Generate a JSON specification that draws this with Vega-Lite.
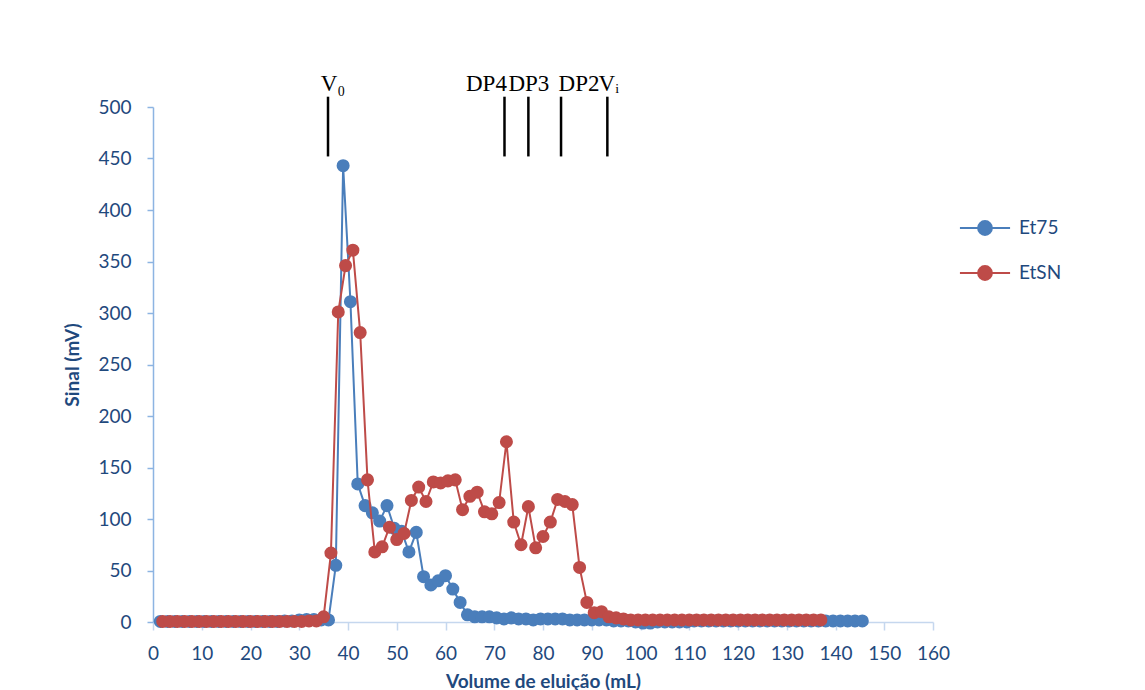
{
  "$schema": "https://vega.github.io/schema/vega-lite/v6.json",
  "autosize": {"type": "none"},
  "width": 780,
  "height": 515,
  "padding": {"left": 153, "top": 107, "right": 212, "bottom": 68},
  "background": "white",
  "config": {
    "view": {"stroke": null},
    "font": "Lato",
    "axisX": {
      "grid": false, "domainColor": "#C5D7EE", "domainWidth": 1.5, "tickColor": "#C5D7EE", "tickWidth": 1.5, "tickSize": 8,
      "labelFont": "Lato", "labelFontSize": 19, "labelColor": "#1F497D", "labelPadding": 14, "labelFlush": false,
      "titleFont": "Lato", "titleFontSize": 19, "titleFontWeight": "bold", "titleColor": "#1F497D", "titlePadding": 9,
      "values": [0,10,20,30,40,50,60,70,80,90,100,110,120,130,140,150,160]
    },
    "axisY": {
      "grid": false, "domainColor": "#8DB4E2", "domainWidth": 1.5, "tickColor": "#8DB4E2", "tickWidth": 1.5, "tickSize": 6,
      "labelFont": "Lato", "labelFontSize": 19, "labelColor": "#1F497D", "labelPadding": 16,
      "titleFont": "Lato", "titleFontSize": 19, "titleFontWeight": "bold", "titleColor": "#1F497D", "titlePadding": 15,
      "values": [0,50,100,150,200,250,300,350,400,450,500]
    }
  },
  "datasets": {
    "series": [
      {"s":"Et75","v":1.5,"sig":0.5},{"s":"Et75","v":3,"sig":0.5},{"s":"Et75","v":4.5,"sig":0.5},{"s":"Et75","v":6,"sig":0.5},
      {"s":"Et75","v":7.5,"sig":0.5},{"s":"Et75","v":9,"sig":0.5},{"s":"Et75","v":10.5,"sig":0.5},{"s":"Et75","v":12,"sig":0.5},
      {"s":"Et75","v":13.5,"sig":0.5},{"s":"Et75","v":15,"sig":0.5},{"s":"Et75","v":16.5,"sig":0.5},{"s":"Et75","v":18,"sig":0.5},
      {"s":"Et75","v":19.5,"sig":0.5},{"s":"Et75","v":21,"sig":0.5},{"s":"Et75","v":22.5,"sig":0.5},{"s":"Et75","v":24,"sig":0.5},
      {"s":"Et75","v":25.5,"sig":0.5},{"s":"Et75","v":27,"sig":1},{"s":"Et75","v":28.5,"sig":1},{"s":"Et75","v":30,"sig":2},
      {"s":"Et75","v":31.5,"sig":2.5},{"s":"Et75","v":33,"sig":2.5},{"s":"Et75","v":34.5,"sig":2},{"s":"Et75","v":36,"sig":2},
      {"s":"Et75","v":37.5,"sig":55},{"s":"Et75","v":39,"sig":443},{"s":"Et75","v":40.5,"sig":311},{"s":"Et75","v":42,"sig":134},
      {"s":"Et75","v":43.5,"sig":113},{"s":"Et75","v":45,"sig":106},{"s":"Et75","v":46.5,"sig":98},{"s":"Et75","v":48,"sig":113},
      {"s":"Et75","v":49.5,"sig":91},{"s":"Et75","v":51,"sig":88},{"s":"Et75","v":52.5,"sig":68},{"s":"Et75","v":54,"sig":87},
      {"s":"Et75","v":55.5,"sig":44},{"s":"Et75","v":57,"sig":36},{"s":"Et75","v":58.5,"sig":40},{"s":"Et75","v":60,"sig":45},
      {"s":"Et75","v":61.5,"sig":32},{"s":"Et75","v":63,"sig":19},{"s":"Et75","v":64.5,"sig":7},{"s":"Et75","v":66,"sig":5},
      {"s":"Et75","v":67.5,"sig":5},{"s":"Et75","v":69,"sig":5},{"s":"Et75","v":70.5,"sig":4},{"s":"Et75","v":72,"sig":3},
      {"s":"Et75","v":73.5,"sig":4},{"s":"Et75","v":75,"sig":3},{"s":"Et75","v":76.5,"sig":3},{"s":"Et75","v":78,"sig":2},
      {"s":"Et75","v":79.5,"sig":3},{"s":"Et75","v":81,"sig":3},{"s":"Et75","v":82.5,"sig":3},{"s":"Et75","v":84,"sig":3},
      {"s":"Et75","v":85.5,"sig":2},{"s":"Et75","v":87,"sig":2},{"s":"Et75","v":88.5,"sig":2},{"s":"Et75","v":90,"sig":2},
      {"s":"Et75","v":91.5,"sig":2},{"s":"Et75","v":93,"sig":2},{"s":"Et75","v":94.5,"sig":1},{"s":"Et75","v":96,"sig":1},
      {"s":"Et75","v":97.5,"sig":1},{"s":"Et75","v":99,"sig":0},{"s":"Et75","v":100.5,"sig":-1},{"s":"Et75","v":102,"sig":-1},
      {"s":"Et75","v":103.5,"sig":0},{"s":"Et75","v":105,"sig":0},{"s":"Et75","v":106.5,"sig":0},{"s":"Et75","v":108,"sig":0},
      {"s":"Et75","v":109.5,"sig":0},{"s":"Et75","v":111,"sig":1},{"s":"Et75","v":112.5,"sig":1},{"s":"Et75","v":114,"sig":1},
      {"s":"Et75","v":115.5,"sig":1},{"s":"Et75","v":117,"sig":1},{"s":"Et75","v":118.5,"sig":1},{"s":"Et75","v":120,"sig":1},
      {"s":"Et75","v":121.5,"sig":1},{"s":"Et75","v":123,"sig":1},{"s":"Et75","v":124.5,"sig":1},{"s":"Et75","v":126,"sig":1},
      {"s":"Et75","v":127.5,"sig":1},{"s":"Et75","v":129,"sig":1},{"s":"Et75","v":130.5,"sig":1},{"s":"Et75","v":132,"sig":1},
      {"s":"Et75","v":133.5,"sig":1},{"s":"Et75","v":135,"sig":1},{"s":"Et75","v":136.5,"sig":1},{"s":"Et75","v":138,"sig":1},
      {"s":"Et75","v":139.5,"sig":1},{"s":"Et75","v":141,"sig":1},{"s":"Et75","v":142.5,"sig":1},{"s":"Et75","v":144,"sig":1},
      {"s":"Et75","v":145.5,"sig":1},
      {"s":"EtSN","v":2,"sig":0.5},{"s":"EtSN","v":3.5,"sig":0.5},{"s":"EtSN","v":5,"sig":0.5},{"s":"EtSN","v":6.5,"sig":0.5},
      {"s":"EtSN","v":8,"sig":0.5},{"s":"EtSN","v":9.5,"sig":0.5},{"s":"EtSN","v":11,"sig":0.5},{"s":"EtSN","v":12.5,"sig":0.5},
      {"s":"EtSN","v":14,"sig":0.5},{"s":"EtSN","v":15.5,"sig":0.5},{"s":"EtSN","v":17,"sig":0.5},{"s":"EtSN","v":18.5,"sig":0.5},
      {"s":"EtSN","v":20,"sig":0.5},{"s":"EtSN","v":21.5,"sig":0.5},{"s":"EtSN","v":23,"sig":0.5},{"s":"EtSN","v":24.5,"sig":0.5},
      {"s":"EtSN","v":26,"sig":0.5},{"s":"EtSN","v":27.5,"sig":0.5},{"s":"EtSN","v":29,"sig":0.5},{"s":"EtSN","v":30.5,"sig":0.5},
      {"s":"EtSN","v":32,"sig":1},{"s":"EtSN","v":33.5,"sig":1},{"s":"EtSN","v":35,"sig":5},{"s":"EtSN","v":36.5,"sig":67},
      {"s":"EtSN","v":38,"sig":301},{"s":"EtSN","v":39.5,"sig":346},{"s":"EtSN","v":41,"sig":361},{"s":"EtSN","v":42.5,"sig":281},
      {"s":"EtSN","v":44,"sig":138},{"s":"EtSN","v":45.5,"sig":68},{"s":"EtSN","v":47,"sig":73},{"s":"EtSN","v":48.5,"sig":92},
      {"s":"EtSN","v":50,"sig":80},{"s":"EtSN","v":51.5,"sig":86},{"s":"EtSN","v":53,"sig":118},{"s":"EtSN","v":54.5,"sig":131},
      {"s":"EtSN","v":56,"sig":117},{"s":"EtSN","v":57.5,"sig":136},{"s":"EtSN","v":59,"sig":135},{"s":"EtSN","v":60.5,"sig":137},
      {"s":"EtSN","v":62,"sig":138},{"s":"EtSN","v":63.5,"sig":109},{"s":"EtSN","v":65,"sig":122},{"s":"EtSN","v":66.5,"sig":126},
      {"s":"EtSN","v":68,"sig":107},{"s":"EtSN","v":69.5,"sig":105},{"s":"EtSN","v":71,"sig":116},{"s":"EtSN","v":72.5,"sig":175},
      {"s":"EtSN","v":74,"sig":97},{"s":"EtSN","v":75.5,"sig":75},{"s":"EtSN","v":77,"sig":112},{"s":"EtSN","v":78.5,"sig":72},
      {"s":"EtSN","v":80,"sig":83},{"s":"EtSN","v":81.5,"sig":97},{"s":"EtSN","v":83,"sig":119},{"s":"EtSN","v":84.5,"sig":117},
      {"s":"EtSN","v":86,"sig":114},{"s":"EtSN","v":87.5,"sig":53},{"s":"EtSN","v":89,"sig":19},{"s":"EtSN","v":90.5,"sig":9},
      {"s":"EtSN","v":92,"sig":10},{"s":"EtSN","v":93.5,"sig":5},{"s":"EtSN","v":95,"sig":4},{"s":"EtSN","v":96.5,"sig":3},
      {"s":"EtSN","v":98,"sig":2},{"s":"EtSN","v":99.5,"sig":2},{"s":"EtSN","v":101,"sig":2},{"s":"EtSN","v":102.5,"sig":2},
      {"s":"EtSN","v":104,"sig":2},{"s":"EtSN","v":105.5,"sig":2},{"s":"EtSN","v":107,"sig":2},{"s":"EtSN","v":108.5,"sig":2},
      {"s":"EtSN","v":110,"sig":2},{"s":"EtSN","v":111.5,"sig":2},{"s":"EtSN","v":113,"sig":2},{"s":"EtSN","v":114.5,"sig":2},
      {"s":"EtSN","v":116,"sig":2},{"s":"EtSN","v":117.5,"sig":2},{"s":"EtSN","v":119,"sig":2},{"s":"EtSN","v":120.5,"sig":2},
      {"s":"EtSN","v":122,"sig":2},{"s":"EtSN","v":123.5,"sig":2},{"s":"EtSN","v":125,"sig":2},{"s":"EtSN","v":126.5,"sig":2},
      {"s":"EtSN","v":128,"sig":2},{"s":"EtSN","v":129.5,"sig":2},{"s":"EtSN","v":131,"sig":2},{"s":"EtSN","v":132.5,"sig":2},
      {"s":"EtSN","v":134,"sig":2},{"s":"EtSN","v":135.5,"sig":2},{"s":"EtSN","v":137,"sig":2}
    ],
    "marks": [
      {"label":"V₀","pos":35.9,"tx":34.4},
      {"label":"DP4","pos":72.1,"tx":64.2},
      {"label":"DP3","pos":77.0,"tx":72.9},
      {"label":"DP2","pos":83.7,"tx":83.2},
      {"label":"Vᵢ","pos":93.2,"tx":91.4}
    ]
  },
  "layer": [
    {
      "data": {"name": "series"},
      "transform": [{"filter": "datum.s === 'Et75'"}],
      "mark": {"type": "line", "strokeWidth": 2},
      "encoding": {
        "x": {"field": "v", "type": "quantitative", "scale": {"domain": [0, 160], "nice": false, "zero": false}, "title": "Volume de eluição (mL)"},
        "y": {"field": "sig", "type": "quantitative", "scale": {"domain": [0, 500], "nice": false}, "title": "Sinal (mV)"},
        "color": {"field": "s", "type": "nominal", "scale": {"domain": ["Et75", "EtSN"], "range": ["#4A7EBB", "#BE4B48"]},
          "legend": {"orient": "none", "legendX": 808, "legendY": 97, "title": null, "padding": 0,
            "symbolType": "M-1.09,0L1.09,0M0.3,0A0.3,0.3,0,1,1,-0.3,0A0.3,0.3,0,1,1,0.3,0Z",
            "symbolSize": 2116, "symbolStrokeWidth": 2, "rowPadding": 10, "labelOffset": 10,
            "labelFont": "Lato", "labelFontSize": 19, "labelColor": "#1F497D"}}
      }
    },
    {
      "data": {"name": "series"},
      "transform": [{"filter": "datum.s === 'Et75'"}],
      "mark": {"type": "point", "filled": true, "size": 170, "opacity": 1, "shape": "circle"},
      "encoding": {
        "x": {"field": "v", "type": "quantitative", "title": "Volume de eluição (mL)"},
        "y": {"field": "sig", "type": "quantitative", "title": "Sinal (mV)"},
        "color": {"field": "s", "type": "nominal"}
      }
    },
    {
      "data": {"name": "series"},
      "transform": [{"filter": "datum.s === 'EtSN'"}],
      "mark": {"type": "line", "strokeWidth": 2},
      "encoding": {
        "x": {"field": "v", "type": "quantitative", "title": "Volume de eluição (mL)"},
        "y": {"field": "sig", "type": "quantitative", "title": "Sinal (mV)"},
        "color": {"field": "s", "type": "nominal"}
      }
    },
    {
      "data": {"name": "series"},
      "transform": [{"filter": "datum.s === 'EtSN'"}],
      "mark": {"type": "point", "filled": true, "size": 170, "opacity": 1, "shape": "circle"},
      "encoding": {
        "x": {"field": "v", "type": "quantitative", "title": "Volume de eluição (mL)"},
        "y": {"field": "sig", "type": "quantitative", "title": "Sinal (mV)"},
        "color": {"field": "s", "type": "nominal"}
      }
    },
    {
      "data": {"name": "marks"},
      "mark": {"type": "rule", "color": "black", "strokeWidth": 2.5},
      "encoding": {
        "x": {"field": "pos", "type": "quantitative", "title": "Volume de eluição (mL)"},
        "y": {"datum": 452, "type": "quantitative", "title": "Sinal (mV)"},
        "y2": {"datum": 510}
      }
    },
    {
      "data": {"name": "marks"},
      "mark": {"type": "text", "align": "left", "baseline": "alphabetic", "font": "Liberation Serif", "fontSize": 23, "color": "black"},
      "encoding": {
        "x": {"field": "tx", "type": "quantitative", "title": "Volume de eluição (mL)"},
        "y": {"datum": 516, "type": "quantitative", "title": "Sinal (mV)"},
        "text": {"field": "label"}
      }
    }
  ]
}
